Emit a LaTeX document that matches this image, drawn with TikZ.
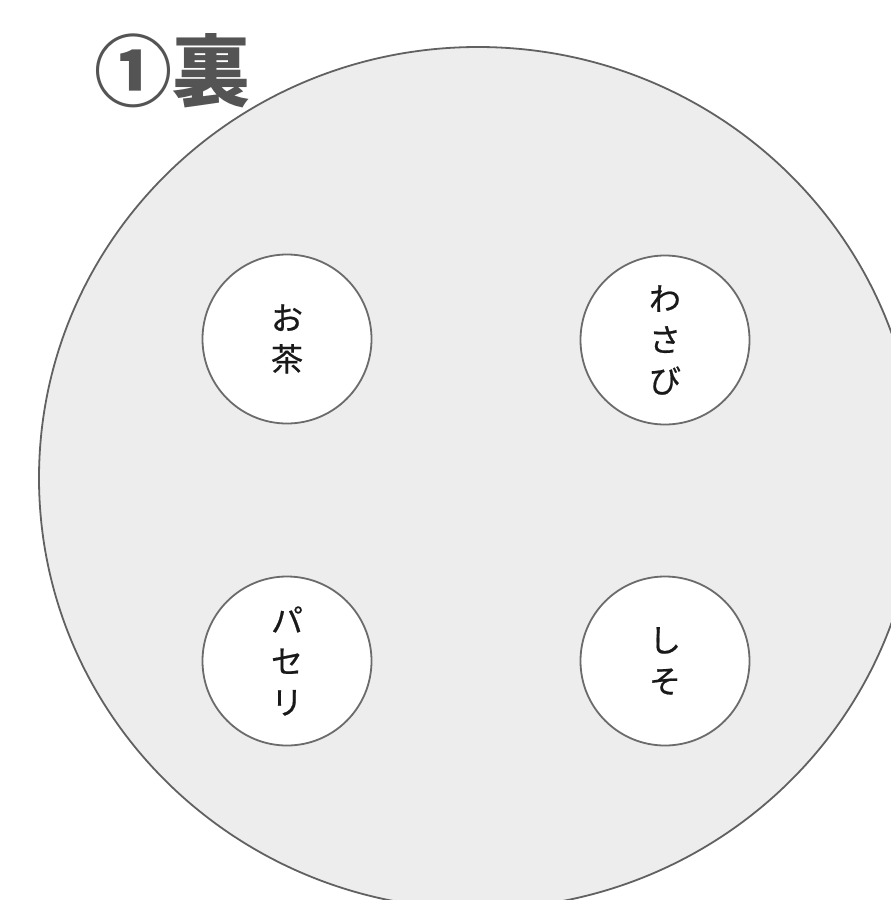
\documentclass[tikz,border=0pt]{standalone}
\usepackage{fontspec}
\newfontfamily\cjk{Noto Sans CJK JP}
\newfontfamily\cjklabel[FakeBold=0.6]{Noto Sans CJK JP}
\begin{document}
\begin{tikzpicture}[x=1pt,y=-1pt,
  plate/.style={draw=black!62, line width=1.8pt, fill=black!7},
  spot/.style={circle, draw=black!58, line width=1.8pt, fill=white,
    minimum size=169pt, inner sep=0pt, align=center, text=black!90,
    font=\cjklabel\fontsize{32}{41}\selectfont},
  heading/.style={text=black!67, font=\cjk\bfseries\fontsize{78}{80}\selectfont, inner sep=0pt}]
\useasboundingbox (0,0) rectangle (891,900);
\clip (0,0) rectangle (891,900);
\fill[white] (0,0) rectangle (891,900);
\draw[plate] (478,478) ellipse [x radius=439, y radius=431];
\node[spot] (ocha) at (287,339) {お\\茶};
\node[spot] (wasabi) at (665,340) {わ\\さ\\び};
\node[spot] (paseri) at (287,661) {パ\\セ\\リ};
\node[spot] (shiso) at (665,661) {し\\そ};
\node[heading] (title) at (172,71) {①裏};
\end{tikzpicture}
\end{document}
